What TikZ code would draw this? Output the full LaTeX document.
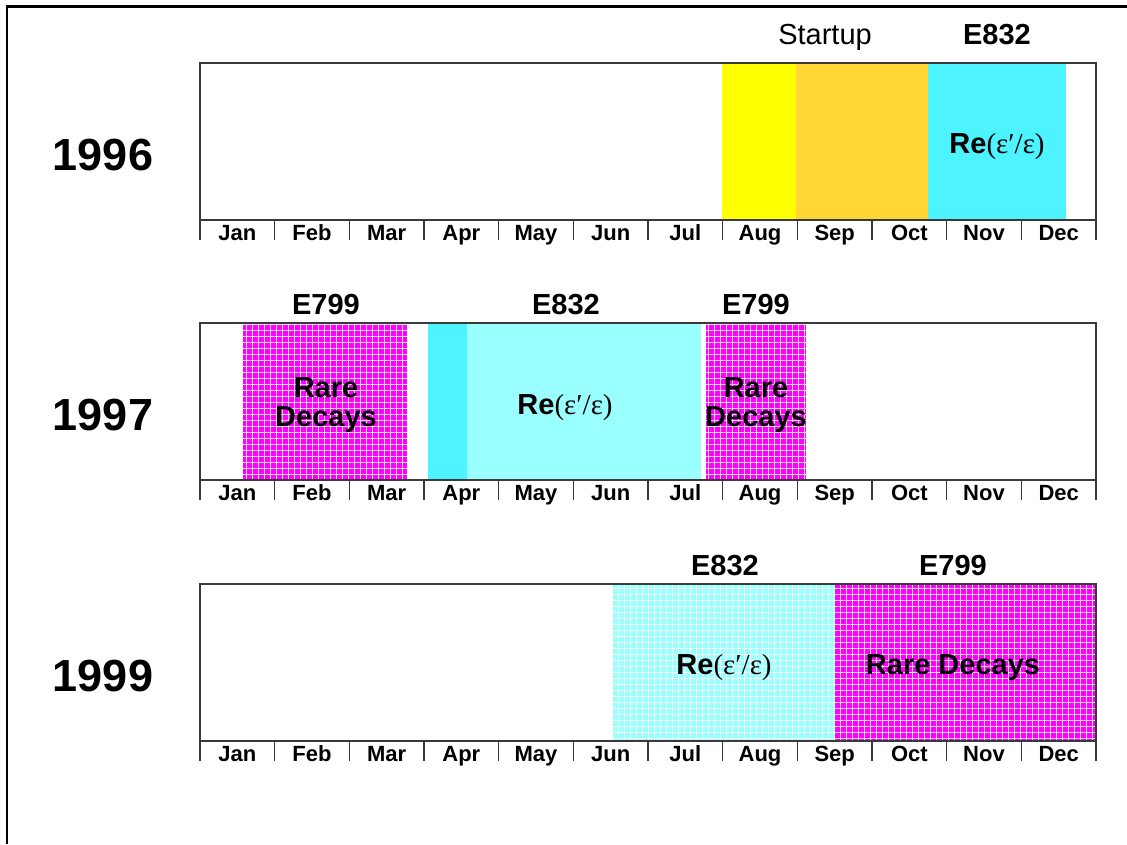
\documentclass[tikz,border=0pt]{standalone}
\usepackage{fontspec}
\setmainfont{Liberation Sans}
\newfontfamily\greekfont{Liberation Serif}
\definecolor{ylw}{HTML}{FFFF00}
\definecolor{org}{HTML}{FFD633}
\definecolor{cyn}{HTML}{4DF3FF}
\definecolor{lcyn}{HTML}{99FFFF}
\definecolor{mag}{HTML}{FF00FF}
\definecolor{boxgray}{HTML}{3A3A3A}
\newcommand{\ReEps}{\textbf{Re}{\mdseries\greekfont(ε′/ε)}}
\newcommand{\ditherfill}[5]{%
  \fill[#1] (#2,#3) rectangle (#4,#5);
  \begin{scope}
    \clip (#2,#3) rectangle (#4,#5);
    \draw[white,line width=0.8pt,opacity=0.85] (#2,#3) grid[step=6pt] (#4,#5);
  \end{scope}}
\begin{document}
\begin{tikzpicture}[x=1pt,y=-1pt,
  frameline/.style={line width=2.3pt,black},
  boxline/.style={line width=1.3pt,boxgray},
  monthlbl/.style={font=\fontsize{22}{22}\selectfont\bfseries,anchor=base,inner sep=0pt},
  yearlbl/.style={font=\fontsize{45}{45}\selectfont\bfseries,anchor=center,inner sep=0pt},
  explbl/.style={font=\fontsize{29}{29}\selectfont,anchor=base,inner sep=0pt},
  explblb/.style={font=\fontsize{29}{29}\selectfont\bfseries,anchor=base,inner sep=0pt},
  inlbl/.style={font=\fontsize{29}{29}\selectfont\bfseries,anchor=base,inner sep=0pt},
  inlbltwo/.style={font=\fontsize{29}{29}\selectfont\bfseries,anchor=center,align=center,inner sep=0pt}]
\useasboundingbox (0,0) rectangle (1127,844);
\fill[white] (0,0) rectangle (1127,844);
\draw[frameline] (7,844) -- (7,6.5) -- (1127,6.5);

% ---------- 1996 ----------
\fill[ylw] (722,63) rectangle (796,220);
\fill[org] (796,63) rectangle (928,220);
\fill[cyn] (928,63) rectangle (1066,220);
% ---------- 1997 ----------
\ditherfill{mag}{243}{323}{407}{479}
\fill[cyn] (428,323) rectangle (467,479);
\fill[lcyn] (467,323) rectangle (701,479);
\ditherfill{mag}{706}{323}{806}{479}
% ---------- 1999 ----------
\ditherfill{lcyn}{613}{584}{835}{740}
\ditherfill{mag}{835}{584}{1096}{740}

% boxes, axes, months
\foreach \o/\yr in {0/1996,260/1997,521/1999}{
  \draw[boxline] (200,63+\o) rectangle (1096,220+\o);
  \foreach \i in {0,...,12}
    \draw[boxline] ({200+\i*896/12},220+\o) -- ++(0,20);
  \foreach \m [count=\i from 0] in {Jan,Feb,Mar,Apr,May,Jun,Jul,Aug,Sep,Oct,Nov,Dec}
    \node[monthlbl] (m\yr\m) at ({200+(\i+0.5)*896/12},240+\o) {\m};
  \node[yearlbl] (y\yr) at (103,155+\o) {\yr};
}

% 1996 labels
\node[explbl] (startup96) at (825,44) {Startup};
\node[explblb] (e832a) at (997,44) {E832};
\node[inlbl] (re96) at (997,153) {\ReEps};
% 1997 labels
\node[explblb] (e799a) at (326,314) {E799};
\node[explblb] (e832b) at (566,314) {E832};
\node[explblb] (e799b) at (756,314) {E799};
\node[inlbltwo] (rd97a) at (326,405) {Rare\\Decays};
\node[inlbl] (re97) at (565,414) {\ReEps};
\node[inlbltwo] (rd97b) at (756,405) {Rare\\Decays};
% 1999 labels
\node[explblb] (e832c) at (725,575) {E832};
\node[explblb] (e799c) at (953,575) {E799};
\node[inlbl] (re99) at (724,674) {\ReEps};
\node[inlbl] (rd99) at (953,674) {Rare Decays};
\end{tikzpicture}
\end{document}
